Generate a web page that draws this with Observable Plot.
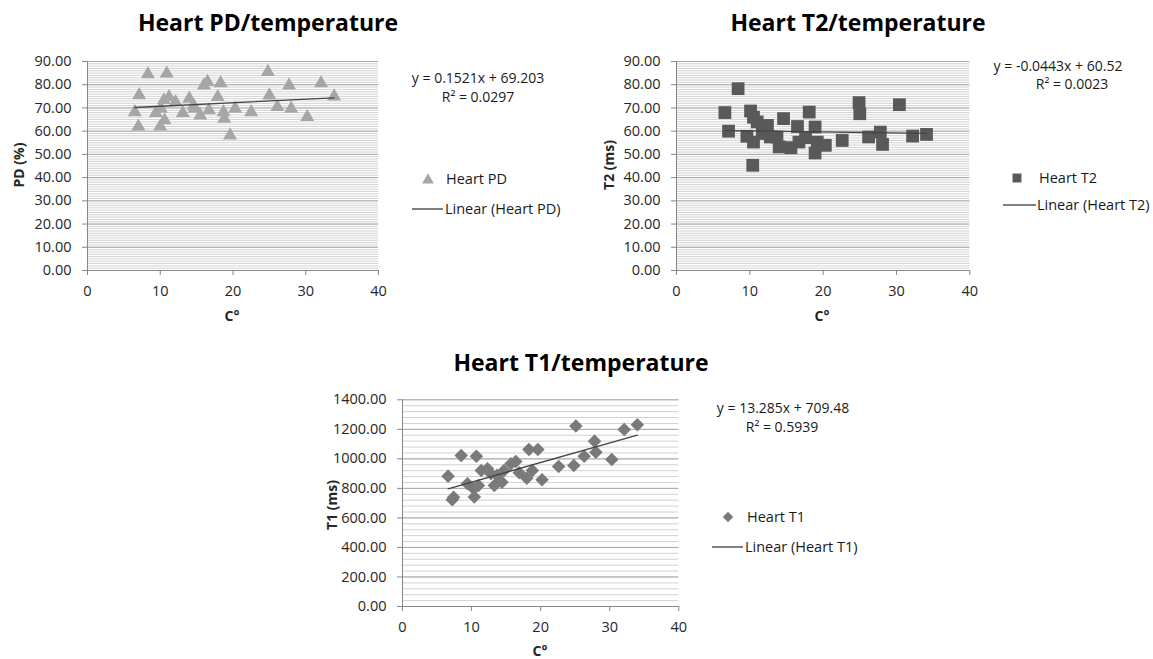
<!DOCTYPE html>
<html>
<head>
<meta charset="utf-8">
<script src="https://cdn.jsdelivr.net/npm/d3@7"></script>
<script src="https://cdn.jsdelivr.net/npm/@observablehq/plot@0.6"></script>
<style>
  body { margin: 0; background: #fff; }
  #root { position: relative; width: 1153px; height: 659px; overflow: hidden; background: #fff; font-family: "Open Sans", sans-serif; color: #222; }
  .abs { position: absolute; white-space: nowrap; line-height: 1; }
  .title { font-weight: 700; font-size: 23px; color: #000; transform: translate(-50%, -50%); }
  .eq { font-size: 14px; color: #1a1a1a; transform: translate(-50%, -50%); }
  .xlab { font-weight: 700; font-size: 14px; color: #262626; transform: translate(-50%, -50%); }
  .ylab { font-weight: 700; font-size: 14px; color: #262626; transform: translate(-50%, -50%) rotate(-90deg); }
  .leg { font-size: 14.5px; color: #1a1a1a; transform: translateY(-50%); }
  .panel { position: absolute; }
</style>
</head>
<body>
<div id="root"></div>
<script>
// ---------------- data ----------------
const xTicks = [0, 10, 20, 30, 40];

const pdTemp = [8.3,10.9,7.1,6.5,7.0,10.0,10.6,9.4,10.5,11.2,12.1,13.1,14.0,14.7,15.5,16.0,16.5,16.7,17.9,18.3,18.7,18.8,19.6,20.3,22.5,24.8,25.0,26.1,27.7,28.0,30.2,32.1,33.9,10.1,14.6];
const pdVal  = [84.5,84.8,75.5,68.2,62.0,62.0,64.7,67.8,73.3,74.7,72.5,67.8,74.0,69.7,66.8,79.7,81.2,69.0,74.7,80.7,68.2,65.4,58.2,69.7,68.2,85.5,75.4,70.4,79.7,69.7,66.1,80.7,75.0,69.7,71.0];
const pdFit  = { slope: 0.1521, intercept: 69.203 };

const t2Temp = [8.4,6.6,7.1,10.1,10.5,11.0,12.4,9.6,10.5,10.4,11.7,14.6,13.7,14.0,15.6,16.5,16.7,18.1,18.9,18.9,19.2,20.3,22.6,24.9,25.0,26.2,27.8,28.1,30.4,32.2,34.1,12.8,17.6];
const t2Val  = [78.3,68.0,60.0,68.7,66.0,64.0,62.5,57.8,55.3,45.3,59.0,65.4,57.5,53.2,52.9,62.0,55.3,68.2,61.8,50.6,55.3,53.9,56.0,72.3,67.5,57.5,59.6,54.3,71.4,57.9,58.6,57.5,57.2];
const t2Fit  = { slope: -0.0443, intercept: 60.52 };

const t1Temp = [6.6,7.2,7.4,8.5,10.7,9.4,10.3,10.4,11.0,11.4,12.3,12.8,13.3,13.7,14.4,14.7,15.7,16.4,16.9,18.0,18.3,18.8,19.6,20.2,22.6,24.8,25.1,26.3,27.8,28.0,30.3,32.1,34.0];
const t1Val  = [883,723,740,1023,1018,831,797,741,820,921,933,899,820,888,842,921,967,982,906,869,1064,921,1064,858,948,955,1222,1018,1120,1045,996,1199,1231];
const t1Fit  = { slope: 13.285, intercept: 709.48 };

const pdMajor = d3.range(0, 91, 10), pdMinor = d3.range(0, 91, 1);
const t2Major = d3.range(0, 91, 10), t2Minor = d3.range(0, 91, 1);
const t1Major = d3.range(0, 1401, 200), t1Minor = d3.range(0, 1401, 40);

// ---------------- drawing ----------------
const root = document.getElementById("root");

function addText(cls, text, x, y) {
  const d = document.createElement("div");
  d.className = "abs " + cls;
  d.textContent = text;
  d.style.left = x + "px";
  d.style.top = y + "px";
  root.appendChild(d);
  return d;
}

function panel(o) {
  const data = o.xs.map((x, i) => ({x, y: o.ys[i]}));
  const ext = d3.extent(o.xs);
  const trend = ext.map(x => ({x, y: o.fit.slope * x + o.fit.intercept}));
  const chart = Plot.plot({
    width: o.width, height: o.height,
    marginLeft: o.ml, marginRight: o.mr, marginTop: o.mt, marginBottom: o.mb,
    style: { fontFamily: "Open Sans, sans-serif", fontSize: "14.5px", color: "#262626", background: "transparent", overflow: "visible" },
    x: { domain: [0, 40] },
    y: { domain: [0, o.major[o.major.length - 1]] },
    marks: [
      Plot.gridY(o.minor, { stroke: "#d2d2d2", strokeOpacity: 1 }),
      Plot.gridY(o.major, { stroke: "#a9a9a9", strokeOpacity: 1 }),
      Plot.axisX(xTicks, { tickSize: 5, tickPadding: 10, stroke: "#868686", fill: "#262626", label: null }),
      Plot.axisY(o.major, { tickSize: 5, tickPadding: 11, stroke: "#868686", fill: "#262626", tickFormat: d3.format(".2f"), label: null }),
      Plot.ruleX([0], { stroke: "#868686" }),
      Plot.ruleY([0], { stroke: "#868686" }),
      Plot.dot(data, { x: "x", y: "y", symbol: o.symbol, r: o.r, rotate: o.rotate || 0, fill: o.fill, stroke: "none", fillOpacity: 1 }),
      Plot.line(trend, { x: "x", y: "y", stroke: "#444", strokeWidth: 1.3 })
    ]
  });
  const wrap = document.createElement("div");
  wrap.className = "panel";
  wrap.style.left = o.left + "px";
  wrap.style.top = o.top + "px";
  wrap.appendChild(chart);
  root.appendChild(wrap);
}

// legend swatches as small SVG
function swatch(kind, fill, cx, cy) {
  const s = d3.create("svg").attr("width", 20).attr("height", 20)
    .style("position", "absolute").style("left", (cx - 10) + "px").style("top", (cy - 10) + "px");
  const sym = kind === "triangle" ? d3.symbolTriangle : d3.symbolSquare;
  const size = kind === "triangle" ? 60 : kind === "square" ? 80 : 55;
  s.append("path").attr("d", d3.symbol(sym, size)()).attr("fill", fill)
    .attr("transform", "translate(10,10)" + (kind === "diamond" ? " rotate(45)" : ""));
  root.appendChild(s.node());
}
function legLine(x1, x2, y) {
  const s = d3.create("svg").attr("width", x2 - x1).attr("height", 4)
    .style("position", "absolute").style("left", x1 + "px").style("top", (y - 2) + "px");
  s.append("line").attr("x1", 0).attr("x2", x2 - x1).attr("y1", 2).attr("y2", 2).attr("stroke", "#555").attr("stroke-width", 1.5);
  root.appendChild(s.node());
}

// Panel 1: PD
panel({ xs: pdTemp, ys: pdVal, fit: pdFit, major: pdMajor, minor: pdMinor,
  symbol: "triangle", r: 5.2, fill: "#a6a6a6",
  left: 0, top: 50, width: 400, height: 270, ml: 87, mr: 22, mt: 11, mb: 50 });
addText("title", "Heart PD/temperature", 268, 22);
addText("ylab", "PD (%)", 19, 165);
addText("xlab", "C°", 232, 316);
addText("eq", "y = 0.1521x + 69.203", 478, 78);
addText("eq", "R² = 0.0297", 478, 97);
swatch("triangle", "#a6a6a6", 428, 180);
addText("leg", "Heart PD", 446, 179);
legLine(412, 443, 209);
addText("leg", "Linear (Heart PD)", 445, 209);

// Panel 2: T2
panel({ xs: t2Temp, ys: t2Val, fit: t2Fit, major: t2Major, minor: t2Minor,
  symbol: "square", r: 7.2, fill: "#595959",
  left: 590, top: 50, width: 390, height: 270, ml: 86, mr: 10.7, mt: 11, mb: 50 });
addText("title", "Heart T2/temperature", 858, 22);
addText("ylab", "T2 (ms)", 609, 165);
addText("xlab", "C°", 822, 316);
addText("eq", "y = -0.0443x + 60.52", 1058, 66);
addText("eq", "R² = 0.0023", 1072, 84);
swatch("square", "#595959", 1017, 178);
addText("leg", "Heart T2", 1039, 178);
legLine(1003, 1036, 205);
addText("leg", "Linear (Heart T2)", 1037, 205);

// Panel 3: T1
panel({ xs: t1Temp, ys: t1Val, fit: t1Fit, major: t1Major, minor: t1Minor,
  symbol: "square", rotate: 45, r: 5.4, fill: "#7a7a7a",
  left: 310, top: 390, width: 380, height: 269, ml: 92, mr: 11.7, mt: 9.3, mb: 53 });
addText("title", "Heart T1/temperature", 581, 362);
addText("ylab", "T1 (ms)", 332, 505);
addText("xlab", "C°", 540, 651);
addText("eq", "y = 13.285x + 709.48", 783, 408);
addText("eq", "R² = 0.5939", 782, 427);
swatch("diamond", "#7a7a7a", 728, 517);
addText("leg", "Heart T1", 747, 517);
legLine(712, 743, 547);
addText("leg", "Linear (Heart T1)", 745, 547);
</script>
</body>
</html>
